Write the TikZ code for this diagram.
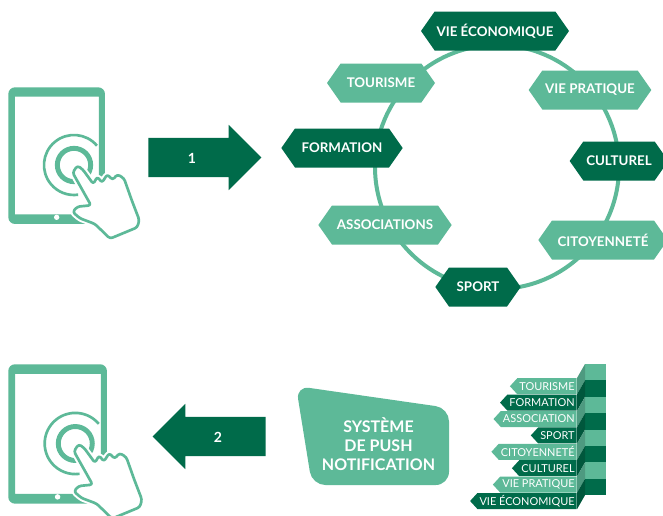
\documentclass[tikz,border=0pt]{standalone}
\usepackage{fontspec}
\setmainfont{Lato}
\usetikzlibrary{shapes.symbols,shapes.arrows}
\definecolor{clair}{HTML}{5DB998}
\definecolor{fonce}{HTML}{006B4A}
\definecolor{clairside}{HTML}{4E9A80}
\definecolor{fonceside}{HTML}{00573C}
\tikzset{
  hexa/.style = {shape=signal, signal to=east and west, signal pointer angle=110,
    minimum height=29.25pt, inner xsep=0pt, inner ysep=0pt, text=white,
    font=\fontsize{10pt}{11pt}\selectfont\bfseries},
  tag/.style = {shape=signal, signal to=west, signal pointer angle=95, anchor=east,
    minimum height=12pt, inner xsep=1.6pt, inner ysep=0pt, text=white,
    font=\fontsize{8.2pt}{9pt}\selectfont},
  fleche/.style = {shape=single arrow, anchor=tail, minimum width=48.75pt, minimum height=84.75pt,
    single arrow head extend=9.75pt, single arrow tip angle=90, inner xsep=0pt,
    inner ysep=14.6pt, fill=fonce},
  numero/.style = {text=white, font=\fontsize{10.5pt}{12pt}\selectfont\bfseries},
  tablette/.pic = {
    \path[fill=clair, even odd rule, rounded corners=5pt] (25,22) rectangle (315,432)
      [sharp corners] (45,50) rectangle (297,403);
    \fill[white] (170,412) circle[radius=8];
    \draw[clair, line width=2pt] (222,255) ++(-40:90) arc[start angle=-40, end angle=-278, radius=90];
    \draw[clair, line width=3.7pt] (222,255) circle[radius=50];
    \def\mainpath{(218,278) -- (273,376) -- (232,380) -- (218,396) -- (240,415) -- (285,432)
      -- (330,476) -- (412,442) -- (418,420) -- (395,360) -- (372,295) -- (352,283) -- (338,300)
      -- (322,283) -- (306,308) -- (292,290) -- (280,312) -- (248,268) -- (232,257) -- cycle}
    \draw[white, line width=5pt, line join=round, rounded corners=2pt] \mainpath;
    \draw[clair, fill=white, line width=2pt, line join=round, rounded corners=2pt] \mainpath;
  }
}
\begin{document}
\begin{tikzpicture}[x=0.75pt, y=-0.75pt]
  \clip (0,0) rectangle (663,515);
  \fill[white] (0,0) rectangle (663,515);
  % premier ecran
  \pic[scale=0.3333] at (0,80) {tablette};
  \node[fleche] (fleche1) at (148,157.5) {};
  \node[numero] (un) at (192,158) {1};
  % rubriques
  \draw[clair, line width=3pt] (497,167) circle[radius=122];
  \node[hexa, fill=fonce, minimum width=111pt] (economique) at (495,31) {VIE ÉCONOMIQUE};
  \node[hexa, fill=clair, minimum width=92pt] (pratique) at (590,90) {VIE PRATIQUE};
  \node[hexa, fill=fonce, minimum width=74pt] (culturel) at (619,161) {CULTUREL};
  \node[hexa, fill=clair, minimum width=97pt] (citoyennete) at (603,240) {CITOYENNETÉ};
  \node[hexa, fill=fonce, minimum width=64pt] (sport) at (478,287) {SPORT};
  \node[hexa, fill=clair, minimum width=100pt] (associations) at (385,225) {ASSOCIATIONS};
  \node[hexa, fill=fonce, minimum width=91pt] (formation) at (342,148) {FORMATION};
  \node[hexa, fill=clair, minimum width=81pt] (tourisme) at (381,83) {TOURISME};
  % second ecran
  \pic[scale=0.34] at (-0.2,356.8) {tablette};
  \node[fleche, shape border rotate=180] (fleche2) at (266,436.5) {};
  \node[numero] (deux) at (218,437) {2};
  % systeme de push
  \fill[clair, rounded corners=10pt] (296,386) -- (449,408) -- (449,485) -- (312,485) -- cycle;
  \node[align=center, text=white, font=\fontsize{12pt}{14.3pt}\selectfont\bfseries] (push) at (378.5,444)
    {SYSTÈME\\DE PUSH\\NOTIFICATION};
  % pile
  \fill[clair] (585,364) rectangle (606,380.4);
  \fill[fonce] (585,380.4) rectangle (606,396.8);
  \fill[clair] (585,396.8) rectangle (606,413.2);
  \fill[fonce] (585,413.2) rectangle (606,429.6);
  \fill[clair] (585,429.6) rectangle (606,446);
  \fill[fonce] (585,446) rectangle (606,462.4);
  \fill[clair] (585,462.4) rectangle (606,478.8);
  \fill[fonce] (585,478.8) rectangle (606,495.2);
  \fill[clairside] (577,378) -- (585,364) -- (585,380.4) -- (577,394.4) -- cycle;
  \fill[fonceside] (577,394.4) -- (585,380.4) -- (585,396.8) -- (577,410.8) -- cycle;
  \fill[clairside] (577,410.8) -- (585,396.8) -- (585,413.2) -- (577,427.2) -- cycle;
  \fill[fonceside] (577,427.2) -- (585,413.2) -- (585,429.6) -- (577,443.6) -- cycle;
  \fill[clairside] (577,443.6) -- (585,429.6) -- (585,446) -- (577,460) -- cycle;
  \fill[fonceside] (577,460) -- (585,446) -- (585,462.4) -- (577,476.4) -- cycle;
  \fill[clairside] (577,476.4) -- (585,462.4) -- (585,478.8) -- (577,492.8) -- cycle;
  \fill[fonceside] (577,492.8) -- (585,478.8) -- (585,495.2) -- (577,509.2) -- cycle;
  \node[tag, fill=clair] (t1) at (577,386.2) {TOURISME};
  \node[tag, fill=fonce] (t2) at (577,402.6) {FORMATION};
  \node[tag, fill=clair] (t3) at (577,419) {ASSOCIATION};
  \node[tag, fill=fonce] (t4) at (577,435.4) {SPORT};
  \node[tag, fill=clair] (t5) at (577,451.8) {CITOYENNETÉ};
  \node[tag, fill=fonce] (t6) at (577,468.2) {CULTUREL};
  \node[tag, fill=clair] (t7) at (577,484.6) {VIE PRATIQUE};
  \node[tag, fill=fonce] (t8) at (577,501) {VIE ÉCONOMIQUE};
\end{tikzpicture}
\end{document}
